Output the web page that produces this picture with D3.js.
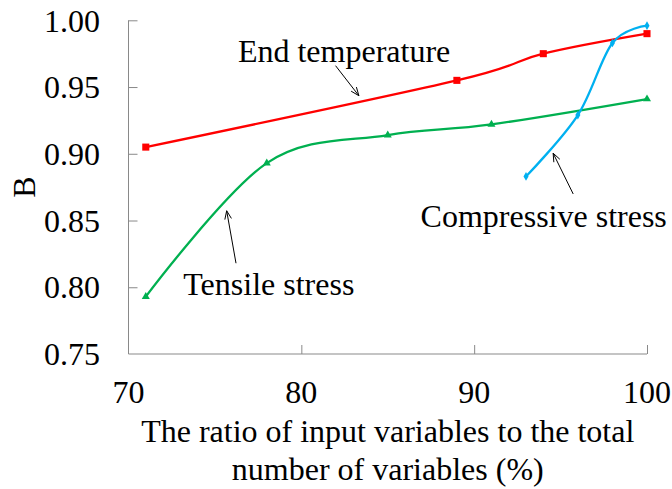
<!DOCTYPE html>
<html>
<head>
<meta charset="utf-8">
<script src="https://cdn.jsdelivr.net/npm/d3@7"></script>
<style>
  html, body { margin: 0; padding: 0; background: #fff; }
  svg { display: block; }
  text { font-family: "Liberation Serif", "Times New Roman", serif; fill: #000; }
</style>
</head>
<body>
<svg id="chart" width="672" height="489"></svg>
<script>
// ---- data ----
const xTicks = [70, 80, 90, 100];
const yTicks = [0.75, 0.80, 0.85, 0.90, 0.95, 1.00];

const endTempX = [71, 89, 94, 100];
const endTempY = [0.905, 0.955, 0.975, 0.990];

const tensileX = [71, 78, 85, 91, 100];
const tensileY = [0.793, 0.893, 0.914, 0.922, 0.941];

const compX = [93, 96, 98, 100];
const compY = [0.883, 0.929, 0.983, 0.996];

const labels = ["End temperature", "Tensile stress", "Compressive stress"];
// annotation anchors in data units: [textX, textY, arrowFromX, arrowFromY, arrowToX, arrowToY]
const annotEnd = [76.33, 0.9685, 81.98, 0.966, 83.33, 0.9435];
const annotTens = [73.17, 0.794, 76.22, 0.818, 75.68, 0.8573];
const annotComp = [86.9, 0.8454, 95.73, 0.8699, 94.57, 0.9004];

(function () {
// ---- layout ----
const svg = d3.select("#chart");
const pL = 128.5, pR = 647, pT = 20.3, pB = 354;
const x = d3.scaleLinear().domain([70, 100]).range([pL, pR]);
const y = d3.scaleLinear().domain([0.75, 1.00]).range([pB, pT]);

const axisColor = "#898989";

// y axis
const yAxis = svg.append("g").attr("transform", `translate(${pL},0)`)
  .call(d3.axisRight(y).tickValues(yTicks).tickSize(9).tickFormat(""));
yAxis.select(".domain").attr("stroke", axisColor).attr("d", `M0,${pT}V${pB}`);
yAxis.selectAll(".tick line").attr("stroke", axisColor);
yAxis.selectAll(".tick").filter(d => d === 0.75).select("line").remove();

svg.append("g").selectAll("text").data(yTicks).join("text")
  .attr("x", pL - 28.5).attr("y", d => y(d) + 11.2)
  .attr("text-anchor", "end").attr("font-size", 32)
  .text(d => d.toFixed(2));

// x axis
const xAxis = svg.append("g").attr("transform", `translate(0,${pB})`)
  .call(d3.axisTop(x).tickValues(xTicks).tickSize(9).tickFormat(""));
xAxis.select(".domain").attr("stroke", axisColor).attr("d", `M${pL},0H${pR}`);
xAxis.selectAll(".tick line").attr("stroke", axisColor);
xAxis.selectAll(".tick").filter(d => d === 70).select("line").remove();

svg.append("g").selectAll("text").data(xTicks).join("text")
  .attr("x", d => x(d)).attr("y", pB + 48.5)
  .attr("text-anchor", "middle").attr("font-size", 32)
  .text(d => d);

// axis titles
svg.append("text").attr("text-anchor", "middle").attr("font-size", 32)
  .attr("transform", `translate(35,${(pT + pB) / 2}) rotate(-90)`)
  .text("B");
const xt = svg.append("text").attr("text-anchor", "middle").attr("font-size", 32)
  .attr("x", (pL + pR) / 2).attr("y", 442.3);
xt.append("tspan").attr("x", (pL + pR) / 2).text("The ratio of input variables to the total");
xt.append("tspan").attr("x", (pL + pR) / 2).attr("dy", 37.5).text("number of variables (%)");

// ---- series ----
const line = d3.line().x(d => x(d[0])).y(d => y(d[1])).curve(d3.curveCardinal.tension(0));

function drawSeries(xs, ys, color, shape, size) {
  const pts = xs.map((v, i) => [v, ys[i]]);
  svg.append("path").datum(pts).attr("d", line)
    .attr("fill", "none").attr("stroke", color).attr("stroke-width", 2.3);
  svg.append("g").selectAll("path").data(pts).join("path")
    .attr("transform", d => `translate(${x(d[0])},${y(d[1])})`)
    .attr("d", d3.symbol().type(shape).size(size))
    .attr("fill", color);
}

drawSeries(endTempX, endTempY, "#FF0000", d3.symbolSquare, 50);
drawSeries(tensileX, tensileY, "#00B050", d3.symbolTriangle, 28);
drawSeries(compX, compY, "#00B0F0", d3.symbolDiamond, 22);

// ---- annotations ----
function annotate(a, text) {
  svg.append("text").attr("x", x(a[0])).attr("y", y(a[1])).attr("font-size", 32).text(text);
  const x1 = x(a[2]), y1 = y(a[3]), x2 = x(a[4]), y2 = y(a[5]);
  svg.append("line").attr("x1", x1).attr("y1", y1).attr("x2", x2).attr("y2", y2)
    .attr("stroke", "#000").attr("stroke-width", 1);
  const ang = Math.atan2(y2 - y1, x2 - x1);
  const L = 9, w = 0.38;
  const p1 = [x2 - L * Math.cos(ang - w), y2 - L * Math.sin(ang - w)];
  const p2 = [x2 - L * Math.cos(ang + w), y2 - L * Math.sin(ang + w)];
  svg.append("path").attr("d", `M${p1}L${x2},${y2}L${p2}`)
    .attr("fill", "none").attr("stroke", "#000").attr("stroke-width", 1);
}
annotate(annotEnd, labels[0]);
annotate(annotTens, labels[1]);
annotate(annotComp, labels[2]);
})();
</script>
</body>
</html>
